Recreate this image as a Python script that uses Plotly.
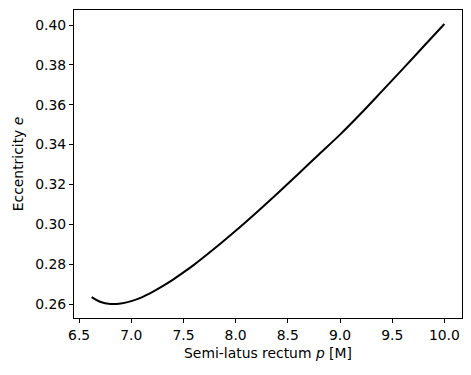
import plotly.graph_objects as go

p_values = [6.62, 6.70, 6.80, 6.90, 7.00, 7.10, 7.20, 7.30, 7.40, 7.50, 7.60, 7.80, 8.00,
            8.20, 8.40, 8.60, 8.80, 9.00, 9.20, 9.40, 9.60, 9.80, 10.00]
e_values = [0.2635, 0.2612, 0.26005, 0.2603, 0.2615, 0.2634, 0.2660, 0.2690, 0.2723, 0.2759,
            0.2797, 0.2880, 0.2968, 0.3060, 0.3155, 0.3253, 0.3352, 0.3450, 0.3556, 0.3667,
            0.3779, 0.3892, 0.4005]

x_ticks = [6.5, 7.0, 7.5, 8.0, 8.5, 9.0, 9.5, 10.0]
y_ticks = [0.26, 0.28, 0.30, 0.32, 0.34, 0.36, 0.38, 0.40]

fig = go.Figure()
fig.add_trace(go.Scatter(x=p_values, y=e_values, mode="lines",
                         line=dict(color="black", width=2, shape="spline", smoothing=1.0),
                         showlegend=False, hoverinfo="skip"))

font = dict(family="DejaVu Sans", size=13.9, color="black")
axis_common = dict(showgrid=False, zeroline=False, showline=True, linecolor="black", linewidth=1,
                   mirror=True, ticks="outside", ticklen=4, tickwidth=1, tickcolor="black",
                   tickfont=font)
x_span = p_values[-1] - p_values[0]
y_span = max(e_values) - min(e_values)
fig.update_xaxes(range=[p_values[0] - 0.05 * x_span, p_values[-1] + 0.05 * x_span],
                 tickvals=x_ticks, ticktext=[f"{v:.1f}" for v in x_ticks],
                 title=dict(text="Semi-latus rectum <i>p</i> [M]", font=font, standoff=6),
                 **axis_common)
fig.update_yaxes(range=[min(e_values) - 0.05 * y_span, max(e_values) + 0.05 * y_span],
                 tickvals=y_ticks, ticktext=[f"{v:.2f}" for v in y_ticks],
                 title=dict(text="Eccentricity <i>e</i>", font=font, standoff=8),
                 **axis_common)
fig.update_layout(width=471, height=375, margin=dict(l=74, r=9, t=10, b=57),
                  paper_bgcolor="white", plot_bgcolor="white", font=font)
fig.write_html("out.html", config={"displayModeBar": False, "staticPlot": True},
               post_script="document.body.style.margin='0';document.body.style.overflow='hidden';")
